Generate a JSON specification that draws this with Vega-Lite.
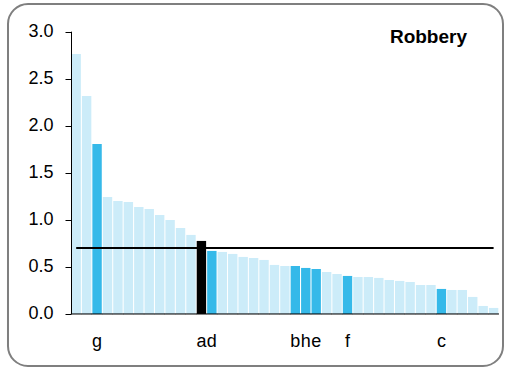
{
  "$schema": "https://vega.github.io/schema/vega-lite/v6.json",
  "width": 495,
  "height": 362,
  "autosize": {"type": "none"},
  "padding": {"left": 8, "top": 4, "right": 2, "bottom": 3},
  "background": "white",
  "config": {
    "view": {"stroke": "#7f7f7f", "strokeWidth": 2, "cornerRadius": 20},
    "font": "Liberation Sans"
  },
  "title": {
    "text": "Robbery",
    "anchor": "end",
    "frame": "group",
    "orient": "top",
    "offset": 0,
    "dx": -36,
    "dy": 58,
    "baseline": "alphabetic",
    "font": "Liberation Sans",
    "fontSize": 19,
    "fontWeight": "bold",
    "color": "black"
  },
  "data": {
    "values": [
      {"rank": 1, "value": 2.763, "group": "other", "label": "", "avg": 0.7},
      {"rank": 2, "value": 2.317, "group": "other", "label": "", "avg": 0.7},
      {"rank": 3, "value": 1.807, "group": "highlight", "label": "g", "avg": 0.7},
      {"rank": 4, "value": 1.243, "group": "other", "label": "", "avg": 0.7},
      {"rank": 5, "value": 1.201, "group": "other", "label": "", "avg": 0.7},
      {"rank": 6, "value": 1.19, "group": "other", "label": "", "avg": 0.7},
      {"rank": 7, "value": 1.137, "group": "other", "label": "", "avg": 0.7},
      {"rank": 8, "value": 1.116, "group": "other", "label": "", "avg": 0.7},
      {"rank": 9, "value": 1.052, "group": "other", "label": "", "avg": 0.7},
      {"rank": 10, "value": 0.999, "group": "other", "label": "", "avg": 0.7},
      {"rank": 11, "value": 0.914, "group": "other", "label": "", "avg": 0.7},
      {"rank": 12, "value": 0.84, "group": "other", "label": "", "avg": 0.7},
      {"rank": 13, "value": 0.776, "group": "focus", "label": "a", "avg": 0.7},
      {"rank": 14, "value": 0.67, "group": "highlight", "label": "d", "avg": 0.7},
      {"rank": 15, "value": 0.659, "group": "other", "label": "", "avg": 0.7},
      {"rank": 16, "value": 0.638, "group": "other", "label": "", "avg": 0.7},
      {"rank": 17, "value": 0.606, "group": "other", "label": "", "avg": 0.7},
      {"rank": 18, "value": 0.595, "group": "other", "label": "", "avg": 0.7},
      {"rank": 19, "value": 0.574, "group": "other", "label": "", "avg": 0.7},
      {"rank": 20, "value": 0.521, "group": "other", "label": "", "avg": 0.7},
      {"rank": 21, "value": 0.51, "group": "other", "label": "", "avg": 0.7},
      {"rank": 22, "value": 0.51, "group": "highlight", "label": "b", "avg": 0.7},
      {"rank": 23, "value": 0.489, "group": "highlight", "label": "h", "avg": 0.7},
      {"rank": 24, "value": 0.478, "group": "highlight", "label": "e", "avg": 0.7},
      {"rank": 25, "value": 0.446, "group": "other", "label": "", "avg": 0.7},
      {"rank": 26, "value": 0.425, "group": "other", "label": "", "avg": 0.7},
      {"rank": 27, "value": 0.404, "group": "highlight", "label": "f", "avg": 0.7},
      {"rank": 28, "value": 0.393, "group": "other", "label": "", "avg": 0.7},
      {"rank": 29, "value": 0.393, "group": "other", "label": "", "avg": 0.7},
      {"rank": 30, "value": 0.383, "group": "other", "label": "", "avg": 0.7},
      {"rank": 31, "value": 0.361, "group": "other", "label": "", "avg": 0.7},
      {"rank": 32, "value": 0.351, "group": "other", "label": "", "avg": 0.7},
      {"rank": 33, "value": 0.34, "group": "other", "label": "", "avg": 0.7},
      {"rank": 34, "value": 0.308, "group": "other", "label": "", "avg": 0.7},
      {"rank": 35, "value": 0.308, "group": "other", "label": "", "avg": 0.7},
      {"rank": 36, "value": 0.266, "group": "highlight", "label": "c", "avg": 0.7},
      {"rank": 37, "value": 0.255, "group": "other", "label": "", "avg": 0.7},
      {"rank": 38, "value": 0.255, "group": "other", "label": "", "avg": 0.7},
      {"rank": 39, "value": 0.181, "group": "other", "label": "", "avg": 0.7},
      {"rank": 40, "value": 0.085, "group": "other", "label": "", "avg": 0.7},
      {"rank": 41, "value": 0.064, "group": "other", "label": "", "avg": 0.7}
    ]
  },
  "encoding": {
    "x": {
      "field": "rank",
      "type": "ordinal",
      "axis": null,
      "scale": {"type": "band", "paddingInner": 0.1, "paddingOuter": 0, "range": [63.5, 490.3]}
    }
  },
  "layer": [
    {
      "mark": {"type": "bar"},
      "encoding": {
        "y": {
          "field": "value",
          "type": "quantitative",
          "scale": {"domain": [-0.553, 3.294], "nice": false, "zero": false},
          "axis": {
            "orient": "left",
            "offset": -63,
            "values": [0, 0.5, 1, 1.5, 2, 2.5, 3],
            "format": ".1f",
            "grid": false,
            "domain": false,
            "ticks": true,
            "tickColor": "black",
            "tickSize": 6,
            "tickWidth": 1,
            "labelPadding": 12,
            "labelFont": "Liberation Sans",
            "labelFontSize": 18,
            "labelColor": "black",
            "title": null
          }
        },
        "y2": {"datum": 0},
        "color": {
          "field": "group",
          "type": "nominal",
          "scale": {"domain": ["other", "highlight", "focus"], "range": ["#ccecf9", "#35b9e9", "#000000"]},
          "legend": null
        }
      }
    },
    {
      "mark": {"type": "line", "color": "black", "strokeWidth": 2},
      "encoding": {
        "y": {"field": "avg", "type": "quantitative"}
      }
    },
    {
      "mark": {"type": "tick", "orient": "horizontal", "size": 10.7, "thickness": 1.5, "color": "black"},
      "encoding": {
        "y": {"datum": 0, "type": "quantitative"}
      }
    },
    {
      "data": {"values": [{"rank": 1}]},
      "mark": {"type": "rule", "color": "black", "strokeWidth": 1},
      "encoding": {
        "x": {"field": "rank", "type": "ordinal", "bandPosition": 0},
        "y": {"datum": 0, "type": "quantitative"},
        "y2": {"datum": 3}
      }
    },
    {
      "mark": {"type": "text", "font": "Liberation Sans", "fontSize": 18, "color": "black", "baseline": "alphabetic", "align": "center"},
      "encoding": {
        "y": {"datum": -0.35, "type": "quantitative"},
        "text": {"field": "label"}
      }
    }
  ]
}
